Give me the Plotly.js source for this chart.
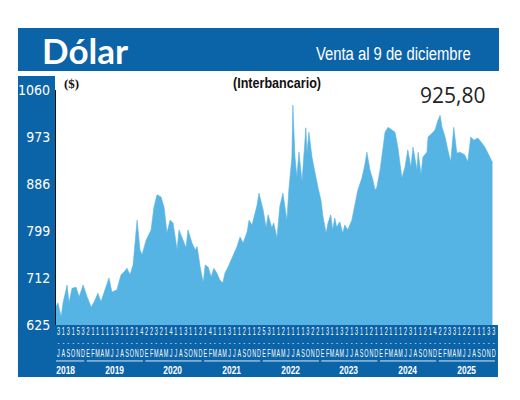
<!DOCTYPE html>
<html>
<head>
<meta charset="utf-8">
<script src="https://cdn.plot.ly/plotly-3.0.1.min.js"></script>
<style>
  html, body { margin: 0; padding: 0; background: #ffffff; }
  #chart { width: 520px; height: 400px; }
</style>
</head>
<body>
<div id="chart"></div>
<script>
// ---- Data ----
const dates = [
  "2018-07-01","2018-07-13","2018-08-02","2018-08-14","2018-09-08","2018-09-20","2018-10-09","2018-11-03","2018-11-22","2018-12-17",
  "2019-01-11","2019-02-05","2019-02-24","2019-03-19","2019-04-07","2019-05-08","2019-05-27","2019-06-14","2019-07-15","2019-08-10",
  "2019-08-29","2019-09-16","2019-10-05","2019-10-24","2019-11-12","2019-11-18","2019-12-06","2019-12-19","2020-01-13","2020-02-13",
  "2020-03-02","2020-03-21","2020-04-15","2020-05-04","2020-05-22","2020-06-10","2020-06-29","2020-07-24","2020-08-05","2020-08-31",
  "2020-09-18","2020-09-30","2020-10-25","2020-11-14","2020-11-26","2020-12-15","2021-01-03","2021-01-15","2021-02-03","2021-02-21",
  "2021-03-10","2021-03-29","2021-04-17","2021-05-05","2021-05-18","2021-06-06","2021-07-07","2021-08-01","2021-08-20","2021-09-08",
  "2021-10-03","2021-10-15","2021-11-03","2021-11-22","2021-12-04","2021-12-16","2022-01-11","2022-01-29","2022-02-11","2022-03-06",
  "2022-03-18","2022-04-07","2022-04-25","2022-05-14","2022-05-26","2022-06-08","2022-06-20","2022-07-09","2022-07-15","2022-07-28",
  "2022-08-09","2022-08-22","2022-09-10","2022-09-22","2022-10-04","2022-10-11","2022-10-23","2022-11-11","2022-11-30","2022-12-18",
  "2023-01-06","2023-01-19","2023-02-07","2023-02-19","2023-03-08","2023-03-20","2023-04-02","2023-04-14","2023-05-03","2023-05-22",
  "2023-06-03","2023-06-22","2023-07-17","2023-08-05","2023-08-24","2023-09-18","2023-10-06","2023-10-19","2023-11-07","2023-11-26",
  "2023-12-08","2023-12-20","2024-01-09","2024-01-28","2024-02-09","2024-02-28","2024-03-23","2024-04-11","2024-04-29","2024-05-24",
  "2024-06-12","2024-06-30","2024-07-19","2024-08-01","2024-08-26","2024-09-02","2024-09-20","2024-10-02","2024-10-27","2024-11-03",
  "2024-11-28","2024-12-16","2025-01-04","2025-01-17","2025-01-29","2025-02-17","2025-03-06","2025-03-24","2025-04-12","2025-05-01",
  "2025-05-19","2025-06-19","2025-07-08","2025-07-27","2025-08-15","2025-09-09","2025-10-04","2025-10-23","2025-11-11","2025-12-09"
];
const dolar = [
  659,666,640,666,699,666,693,695,677,699,
  677,658,668,684,668,695,712,686,690,718,
  723,730,718,736,795,819,764,755,782,801,
  843,866,862,843,795,819,814,764,801,782,
  768,801,777,764,770,732,703,736,732,714,
  730,721,708,703,721,732,755,770,788,777,
  797,819,810,832,847,869,838,805,829,805,
  814,786,845,869,843,819,875,936,1032,936,
  899,945,890,936,990,943,982,936,906,880,
  856,825,795,814,829,801,823,806,816,795,
  810,801,819,847,875,897,921,945,912,893,
  875,880,912,954,982,991,986,982,954,897,
  917,949,917,954,912,945,903,936,945,973,
  980,986,1004,1013,991,973,949,927,991,943,
  945,940,927,973,967,971,962,954,943,925.8
];
const yTicks = [625, 712, 799, 886, 973, 1060];
const monthInitials = ["E","F","M","A","M","J","J","A","S","O","N","D"];
const years = [2018, 2019, 2020, 2021, 2022, 2023, 2024, 2025];
const dayDigits = ("313153211111311214223214113112141113112112531" +
                   "121111322131132131121121112311214223312211133").split("");
const titleText = "Dólar";
const subtitleText = "Venta al 9 de diciembre";
const seriesLabel = "(Interbancario)";
const unitLabel = "($)";
const lastValueLabel = "925,80";

// ---- Helpers ----
function dstr(y, m, d) {
  return y + "-" + String(m + 1).padStart(2, "0") + "-" + String(d).padStart(2, "0");
}

const BLUE = "#0b63a8";
const FILL = "#55b4e3";
const SANS = "Liberation Sans, Arial, sans-serif";

// Month ticks (three rows: digit, dash, month initial)
const tickvals = [], ticktext = [];
let k = 0;
years.forEach(function (yr) {
  const m0 = (yr === years[0]) ? 6 : 0;
  for (let m = m0; m < 12; m++) {
    tickvals.push(dstr(yr, m, 16));
    ticktext.push('<span style="font-size:10.5px">' + dayDigits[k] + '</span><br>-<br>' +
                  '<span style="font-size:10.5px">' + monthInitials[m] + '</span>');
    k++;
  }
});

const shapes = [
  {type: "rect", xref: "paper", yref: "paper", x0: -0.0864, x1: 1.0068, y0: 1.0809, y1: 1.2638,
   fillcolor: BLUE, line: {width: 0}, layer: "below"},
  {type: "rect", xref: "paper", yref: "paper", x0: -0.0864, x1: -0.0023, y0: -0.2213, y1: 1.0596,
   fillcolor: BLUE, line: {width: 0}, layer: "below"},
  {type: "rect", xref: "paper", yref: "paper", x0: -0.0864, x1: 1.0045, y0: -0.2213, y1: 0.0,
   fillcolor: BLUE, line: {width: 0}, layer: "below"}
];
const annotations = [];
years.forEach(function (yr, i) {
  const m0 = (i === 0) ? 6 : 0;
  shapes.push({type: "line", xref: "x", yref: "paper",
    x0: (i === 0) ? "2018-06-08" : dstr(yr, m0, 8), x1: dstr(yr, 11, 24), y0: -0.153, y1: -0.153,
    line: {color: "rgba(255,255,255,0.85)", width: 1}, layer: "below"});
  const lx = (i === 0) ? dstr(yr, 8, 1) : dstr(yr, 6, 1);
  annotations.push({xref: "x", yref: "paper", x: lx, y: -0.19,
    text: "<b>" + yr + "</b>", showarrow: false, xanchor: "center", yanchor: "middle",
    font: {family: SANS, size: 10.5, color: "#ffffff"}});
});

annotations.push(
  {xref: "paper", yref: "paper", x: -0.0364, y: 1.172, xanchor: "left", yanchor: "middle",
   text: "<b>" + titleText + "</b>", showarrow: false,
   font: {family: "Lato, Open Sans, sans-serif", size: 35, color: "#ffffff"}},
  {xref: "paper", yref: "paper", x: 0.767, y: 1.157, xanchor: "center", yanchor: "middle",
   text: subtitleText, showarrow: false,
   font: {family: SANS, size: 19, color: "#ffffff"}},
  {xref: "paper", yref: "paper", x: 0.502, y: 1.030, xanchor: "center", yanchor: "middle",
   text: "<b>" + seriesLabel + "</b>", showarrow: false,
   font: {family: SANS, size: 14, color: "#111111"}},
  {xref: "paper", yref: "paper", x: 0.036, y: 1.026, xanchor: "center", yanchor: "middle",
   text: "<b>" + unitLabel + "</b>", showarrow: false,
   font: {family: "Liberation Serif, serif", size: 13, color: "#111111"}},
  {xref: "paper", yref: "paper", x: 0.900, y: 0.979, xanchor: "center", yanchor: "middle",
   text: lastValueLabel, showarrow: false,
   font: {family: "Open Sans, Noto Sans, sans-serif", size: 21, color: "#222222"}}
);

const trace = {
  type: "scatter", mode: "lines",
  x: dates, y: dolar,
  fill: "tozeroy", fillcolor: FILL,
  line: {color: FILL, width: 0.6},
  hoverinfo: "skip"
};

const layout = {
  width: 520, height: 400,
  margin: {l: 56, r: 24, t: 90, b: 75, pad: 0},
  paper_bgcolor: "#ffffff",
  plot_bgcolor: "rgba(0,0,0,0)",
  showlegend: false,
  xaxis: {
    type: "date",
    range: ["2018-07-01", "2025-12-31"],
    tickmode: "array", tickvals: tickvals, ticktext: ticktext,
    tickangle: 0, ticks: "", showgrid: false, zeroline: false, showline: false,
    tickfont: {family: SANS, size: 8.6, color: "#ffffff"},
    automargin: false, fixedrange: true
  },
  yaxis: {
    range: [625, 1060],
    tickmode: "array", tickvals: yTicks, ticktext: yTicks.map(String),
    ticks: "", showgrid: false, zeroline: false,
    showline: true, linecolor: "#111111", linewidth: 1.5,
    tickfont: {family: "DejaVu Sans, sans-serif", size: 14, color: "#ffffff"},
    automargin: false, fixedrange: true
  },
  shapes: shapes,
  annotations: annotations
};

// Horizontally condense text nodes about their own centre (condensed-type look)
function condense(nodes, f) {
  Array.prototype.forEach.call(nodes, function (t) {
    const bb = t.getBBox();
    const cx = bb.x + bb.width / 2;
    const prev = t.getAttribute("transform") || "";
    t.setAttribute("transform", prev + " translate(" + cx + ",0) scale(" + f + ",1) translate(" + (-cx) + ",0)");
  });
}

const gd = document.getElementById("chart");
Plotly.newPlot(gd, [trace], layout, {displayModeBar: false, staticPlot: true}).then(function () {
  condense(gd.querySelectorAll(".xtick text"), 0.52);
  condense(gd.querySelectorAll(".ytick text"), 0.9);
  const ann = gd.querySelectorAll("text.annotation-text");
  Array.prototype.forEach.call(ann, function (t) {
    const s = t.textContent;
    if (s === subtitleText) condense([t], 0.78);
    else if (/^\d{4}$/.test(s)) condense([t], 0.8);
    else if (s === seriesLabel) condense([t], 0.9);
  });
});
</script>
</body>
</html>
